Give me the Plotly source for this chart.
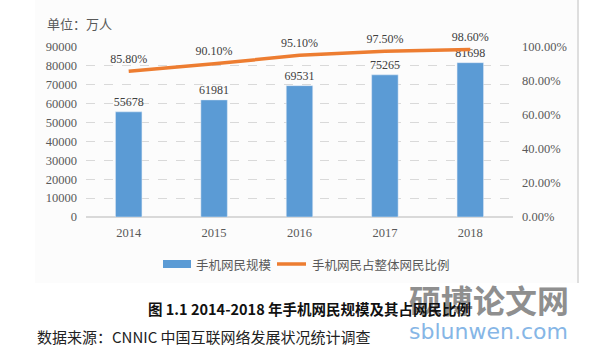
import plotly.graph_objects as go

years = ["2014", "2015", "2016", "2017", "2018"]
users = [55678, 61981, 69531, 75265, 81698]
ratio = [0.858, 0.901, 0.951, 0.975, 0.986]
left_ticks = [0, 10000, 20000, 30000, 40000, 50000, 60000, 70000, 80000, 90000]
right_ticks = [0, 0.2, 0.4, 0.6, 0.8, 1.0]

BLUE = "#5B9BD5"
ORANGE = "#ED7D31"
GREY = "#595959"
SERIF = "Liberation Serif, Times New Roman, serif"
CJK = "Noto Sans CJK SC, sans-serif"

fig = go.Figure()
fig.add_trace(go.Bar(
    x=years, y=users, marker_color=BLUE, width=0.31,
    text=[str(v) for v in users], textposition="outside", cliponaxis=False,
    constraintext="none",
    textfont=dict(family=SERIF, size=12, color="#404040"),
    name="手机网民规模", showlegend=False,
))
fig.add_trace(go.Scatter(
    x=years, y=ratio, yaxis="y2", mode="lines+markers+text",
    line=dict(color=ORANGE, width=3.5),
    marker=dict(size=7, color="rgba(0,0,0,0)"),
    text=[f"{v*100:.2f}%" for v in ratio], textposition="top center",
    textfont=dict(family=SERIF, size=12, color="#404040"),
    name="手机网民占整体网民比例", showlegend=False, cliponaxis=False,
))

fig.update_layout(
    width=590, height=350,
    margin=dict(l=86, r=77, t=47, b=133),
    paper_bgcolor="white", plot_bgcolor="rgba(0,0,0,0)",
    bargap=0.69,
    xaxis=dict(showgrid=False, showline=False, ticks="",
               tickfont=dict(family=SERIF, size=12.5, color=GREY), ticklabelstandoff=6),
    yaxis=dict(range=[0, 90000], tickvals=left_ticks, ticktext=[str(v) for v in left_ticks],
               showgrid=True, gridcolor="#d9d9d9", griddash="dash", gridwidth=1,
               zeroline=True, zerolinecolor="#d9d9d9", zerolinewidth=1.5,
               tickfont=dict(family=SERIF, size=12.5, color=GREY), ticklabelstandoff=8),
    yaxis2=dict(range=[0, 1.0], overlaying="y", side="right",
                tickvals=right_ticks, ticktext=[f"{v*100:.2f}%" for v in right_ticks],
                showgrid=False, zeroline=False,
                tickfont=dict(family=SERIF, size=12.5, color=GREY), ticklabelstandoff=8),
    shapes=[
        dict(type="rect", xref="paper", yref="paper", x0=-51/427, x1=491/427,
             y0=(217-283)/170, y1=217/170, fillcolor="#fcfcfc", line=dict(width=0), layer="below"),
        dict(type="line", xref="paper", yref="paper", x0=(578-86)/427, x1=(578-86)/427,
             y0=(217-283)/170, y1=217/170, line=dict(color="#c8c8c8", width=1.2)),
        # legend
        dict(type="rect", xref="paper", yref="paper", x0=(163-86)/427, x1=(191-86)/427,
             y0=(217-268)/170, y1=(217-260)/170, fillcolor=BLUE, line=dict(width=0)),
        dict(type="line", xref="paper", yref="paper", x0=(277-86)/427, x1=(306-86)/427,
             y0=(217-264)/170, y1=(217-264)/170, line=dict(color=ORANGE, width=3.5)),
    ],
    annotations=[
        dict(text="单位：万人", xref="paper", yref="paper", x=(45-86)/427, y=(217-23)/170,
             xanchor="left", yanchor="middle", showarrow=False,
             font=dict(family=CJK, size=13, color=GREY)),
        dict(text="手机网民规模", xref="paper", yref="paper", x=(194-86)/427, y=(217-264)/170,
             xanchor="left", yanchor="middle", showarrow=False,
             font=dict(family=CJK, size=12.5, color=GREY)),
        dict(text="手机网民占整体网民比例", xref="paper", yref="paper", x=(310-86)/427, y=(217-264)/170,
             xanchor="left", yanchor="middle", showarrow=False,
             font=dict(family=CJK, size=12.5, color=GREY)),
        dict(text="<b>硕博论文网</b>", xref="paper", yref="paper", x=(489-86)/427, y=(217-299)/170,
             xanchor="center", yanchor="middle", showarrow=False,
             font=dict(family=CJK, size=32, color="#8f8f8f")),
        dict(text="sblunwen.com", xref="paper", yref="paper", x=(488-86)/427, y=(217-331)/170,
             xanchor="center", yanchor="middle", showarrow=False,
             font=dict(family="DejaVu Sans, sans-serif", size=22, color="#86b6e6")),
        dict(text="<b>图 1.1 2014-2018 年手机网民规模及其占网民比例</b>", xref="paper", yref="paper",
             x=(309-86)/427, y=(217-308)/170, xanchor="center", yanchor="middle", showarrow=False,
             font=dict(family=CJK, size=14.5, color="#111111")),
        dict(text="数据来源：CNNIC 中国互联网络发展状况统计调查", xref="paper", yref="paper",
             x=(35-86)/427, y=(217-336)/170, xanchor="left", yanchor="middle", showarrow=False,
             font=dict(family=CJK, size=15, color="#222222")),
    ],
)

fig.write_html("out.html")
